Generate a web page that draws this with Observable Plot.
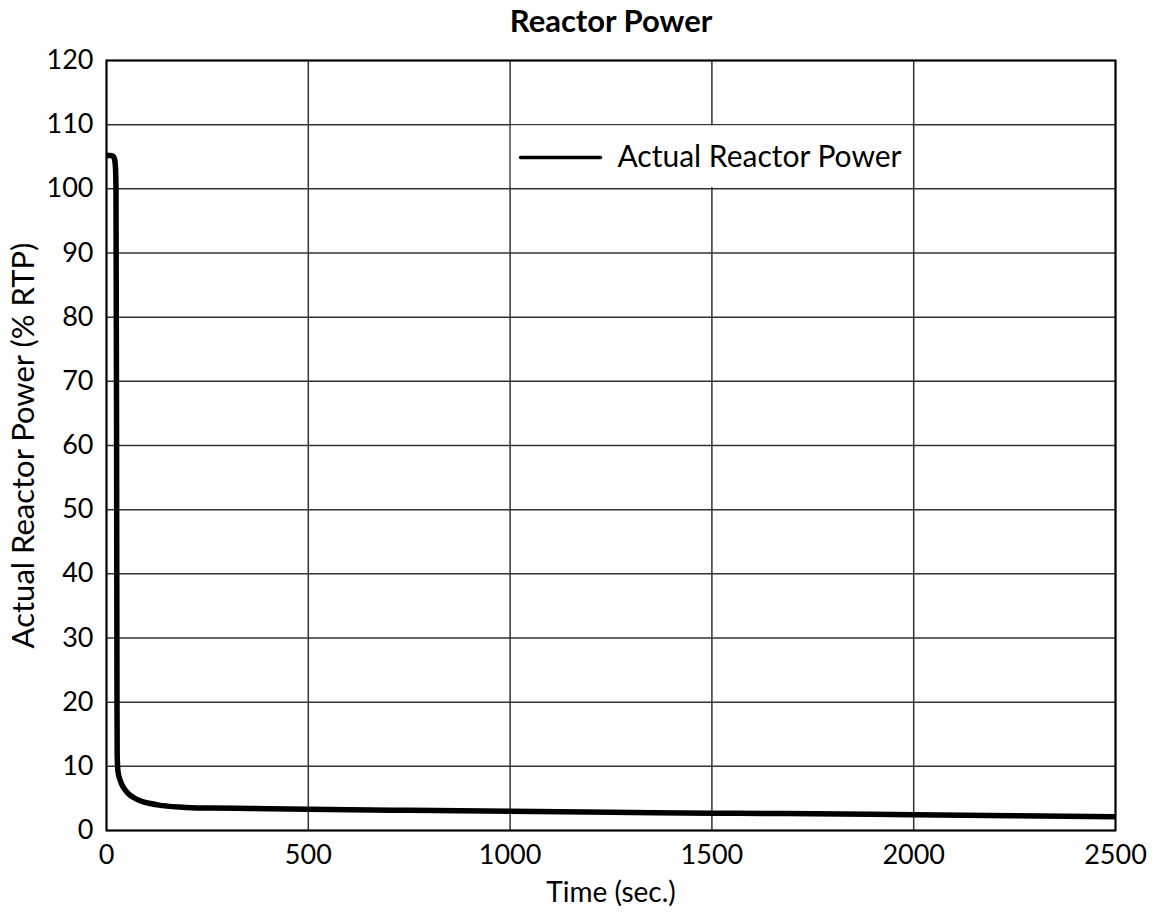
<!DOCTYPE html>
<html>
<head>
<meta charset="utf-8">
<script src="https://cdn.jsdelivr.net/npm/d3@7"></script>
<script src="https://cdn.jsdelivr.net/npm/@observablehq/plot@0.6"></script>
<style>
  html, body { margin: 0; padding: 0; background: #fff; }
  #chart svg { display: block; }
</style>
</head>
<body>
<div id="chart"></div>
<script>
// ---- data ----
const timeSec  = [0, 10, 16, 19, 21, 22.5, 23.5, 25, 26, 26.5, 27.5, 29, 32, 37, 43, 55, 68, 85, 109, 130, 150, 180, 210, 260, 320, 400, 500, 750, 1000, 1250, 1500, 1750, 2000, 2250, 2500];
const powerPct = [105.2, 105.2, 105.1, 104.8, 104.2, 103, 100, 60, 20, 12, 10, 9.0, 8.2, 7.3, 6.6, 5.7, 5.1, 4.6, 4.2, 3.95, 3.8, 3.65, 3.55, 3.5, 3.45, 3.4, 3.3, 3.15, 3.0, 2.85, 2.7, 2.6, 2.45, 2.3, 2.15];
const xTicks = [0, 500, 1000, 1500, 2000, 2500];
const yTicks = [0, 10, 20, 30, 40, 50, 60, 70, 80, 90, 100, 110, 120];
const seriesName = "Actual Reactor Power";
const titleText = "Reactor Power";
const xLabel = "Time (sec.)";
const yLabel = "Actual Reactor Power (% RTP)";

// ---- layout (legend placement in data units) ----
const legendCell = {x1: 1000, x2: 2000, y1: 100, y2: 110};
const legendLine = {xa: 1026, xb: 1224, y: 104.9, textX: 1266};

const rows = timeSec.map((t, i) => ({t, p: powerPct[i]}));
const font = "Lato, 'Open Sans', 'DejaVu Sans', sans-serif";

const chart = Plot.plot({
  width: 1156,
  height: 915,
  marginLeft: 106,
  marginRight: 41,
  marginTop: 60,
  marginBottom: 85,
  style: {fontFamily: font, color: "#000", background: "#fff"},
  x: {domain: [0, 2500]},
  y: {domain: [0, 120]},
  marks: [
    Plot.ruleX(xTicks, {stroke: "#333", strokeWidth: 1.5}),
    Plot.ruleY(yTicks, {stroke: "#333", strokeWidth: 1.5}),
    Plot.rect([legendCell], {x1: "x1", x2: "x2", y1: "y1", y2: "y2", fill: "#fff", inset: 1.2}),
    Plot.line([{x: legendLine.xa, y: legendLine.y}, {x: legendLine.xb, y: legendLine.y}], {x: "x", y: "y", stroke: "#000", strokeWidth: 3.5}),
    Plot.text([seriesName], {x: legendLine.textX, y: legendLine.y, text: d => d, textAnchor: "start", lineAnchor: "middle", fontSize: 30, fill: "#000"}),
    Plot.frame({stroke: "#000", strokeWidth: 2}),
    Plot.line(rows, {x: "t", y: "p", stroke: "#000", strokeWidth: 5.5, curve: "monotone-x", strokeLinejoin: "round", strokeLinecap: "butt"}),
    Plot.axisX({ticks: xTicks, tickSize: 0, tickPadding: 14, fontSize: 27, tickFormat: d => String(d), label: null}),
    Plot.axisY({ticks: yTicks, tickSize: 0, tickPadding: 13, fontSize: 27, tickFormat: d => String(d), label: null}),
    Plot.text([xLabel], {frameAnchor: "bottom", lineAnchor: "middle", dy: 63, text: d => d, fontSize: 28, fill: "#000"}),
    Plot.text([yLabel], {frameAnchor: "left", textAnchor: "middle", lineAnchor: "middle", dx: -82, rotate: -90, text: d => d, fontSize: 31, fill: "#000"}),
    Plot.text([titleText], {frameAnchor: "top", lineAnchor: "middle", dy: -38, text: d => d, fontSize: 31, fontWeight: "bold", fill: "#000"})
  ]
});
document.getElementById("chart").appendChild(chart);
</script>
</body>
</html>
